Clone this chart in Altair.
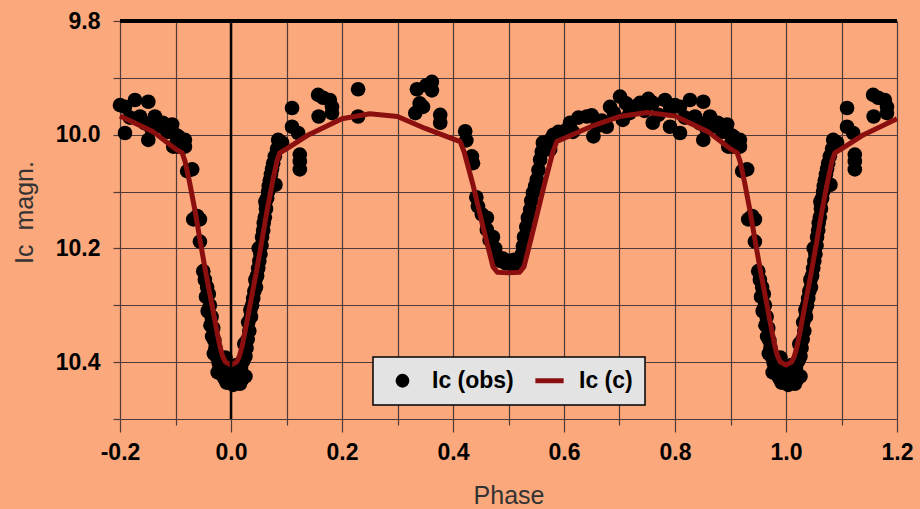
import altair as alt
import pandas as pd

# Observed Ic magnitudes over one cycle (phase 0..1)
OBS_PHASE = [
    0.000, 0.004, 0.008, 0.012, 0.016, 0.020, 0.026, 0.003, 0.010, 0.018,
    0.022, 0.026, 0.028, 0.024, 0.030, 0.033, 0.031, 0.036, 0.035, 0.038,
    0.040, 0.042, 0.045, 0.044, 0.047, 0.049, 0.051, 0.053, 0.050, 0.055,
    0.056, 0.058, 0.059, 0.061, 0.063, 0.062, 0.065, 0.067, 0.068, 0.070,
    0.072, 0.074, 0.076, 0.080, 0.079, 0.083, 0.085,
    0.092, 0.110, 0.110, 0.121, 0.124, 0.124, 0.124, 0.157, 0.166, 0.178,
    0.182, 0.182, 0.158, 0.229, 0.229, 0.332, 0.335, 0.352, 0.362, 0.362,
    0.346, 0.340, 0.377, 0.377,
    0.422, 0.424, 0.434, 0.436, 0.442, 0.445, 0.452, 0.461, 0.461, 0.466,
    0.472, 0.476, 0.480, 0.485, 0.490, 0.495, 0.500, 0.505, 0.510, 0.515,
    0.520, 0.524, 0.526, 0.528, 0.532, 0.535, 0.539, 0.541, 0.544, 0.548,
    0.551, 0.554, 0.557, 0.560, 0.562, 0.568, 0.575, 0.575, 0.581, 0.590,
    0.605, 0.611, 0.616, 0.626, 0.641, 0.650, 0.653, 0.660, 0.668, 0.677,
    0.683, 0.690, 0.701, 0.706, 0.712, 0.718, 0.725, 0.737, 0.745, 0.752,
    0.760, 0.760, 0.770, 0.782, 0.791, 0.791, 0.800, 0.809, 0.809, 0.818,
    0.827, 0.836, 0.845, 0.851, 0.851, 0.857, 0.863, 0.870, 0.877, 0.885,
    0.894, 0.896, 0.900, 0.905, 0.908,
    0.903, 0.917, 0.917, 0.921, 0.930, 0.932, 0.939, 0.944, 0.944, 0.950,
    0.953, 0.957, 0.955, 0.960, 0.962, 0.958, 0.965, 0.963, 0.968, 0.966,
    0.970, 0.972, 0.969, 0.975, 0.978, 0.980, 0.976, 0.984, 0.988, 0.992,
    0.996, 0.985, 0.990,
]
OBS_MAG = [
    10.430, 10.440, 10.435, 10.428, 10.438, 10.430, 10.425, 10.412, 10.405, 10.410,
    10.398, 10.390, 10.375, 10.368, 10.360, 10.345, 10.330, 10.320, 10.308, 10.300,
    10.288, 10.275, 10.268, 10.255, 10.248, 10.235, 10.222, 10.210, 10.200, 10.195,
    10.180, 10.168, 10.155, 10.145, 10.130, 10.118, 10.112, 10.100, 10.090, 10.080,
    10.070, 10.060, 10.050, 10.088, 10.038, 10.025, 10.009,
    10.014, 9.953, 9.986, 9.997, 10.035, 10.047, 10.061, 9.930, 9.935, 9.939,
    9.951, 9.962, 9.968, 9.920, 9.968, 9.962, 9.920, 9.913, 9.907, 9.922,
    9.951, 9.945, 9.965, 9.979,
    9.994, 10.010, 10.038, 10.050, 10.110, 10.126, 10.140, 10.146, 10.167, 10.185,
    10.180, 10.200, 10.214, 10.222, 10.218, 10.226, 10.222, 10.228, 10.220, 10.226,
    10.222, 10.210, 10.196, 10.180, 10.162, 10.146, 10.132, 10.116, 10.102, 10.090,
    10.079, 10.062, 10.044, 10.030, 10.014, 10.022, 10.009, 10.026, 10.000, 9.995,
    9.991, 9.979, 9.995, 9.970, 9.968, 9.966, 10.003, 9.985, 9.975, 9.986,
    9.951, 9.962, 9.933, 9.974, 9.945, 9.962, 9.951, 9.944, 9.958, 9.937,
    9.944, 9.979, 9.965, 9.939, 9.956, 9.986, 9.948, 9.997, 9.951, 9.970,
    9.939, 9.968, 9.980, 9.942, 10.009, 9.990, 9.968, 9.985, 9.979, 9.995,
    9.982, 10.021, 10.000, 10.003, 10.012,
    10.021, 10.009, 10.021, 10.064, 10.061, 10.149, 10.143, 10.149, 10.188, 10.240,
    10.255, 10.268, 10.285, 10.280, 10.300, 10.310, 10.320, 10.335, 10.340, 10.355,
    10.362, 10.375, 10.385, 10.392, 10.402, 10.412, 10.418, 10.422, 10.428, 10.436,
    10.430, 10.400, 10.392,
]

# Computed light curve over one cycle
MODEL_PHASE = [
    0.000, 0.010, 0.015, 0.020, 0.025, 0.035, 0.045, 0.055, 0.065, 0.075,
    0.083, 0.088, 0.100, 0.140, 0.200, 0.250, 0.300, 0.350, 0.413, 0.420,
    0.436, 0.454, 0.472, 0.480, 0.500, 0.520, 0.528, 0.546, 0.564, 0.580,
    0.587, 0.650, 0.700, 0.750, 0.800, 0.860, 0.900, 0.912, 0.917, 0.925,
    0.935, 0.945, 0.955, 0.965, 0.975, 0.980, 0.985, 0.990, 1.000,
]
MODEL_MAG = [
    10.405, 10.400, 10.390, 10.372, 10.348, 10.296, 10.245, 10.190, 10.133, 10.082,
    10.046, 10.032, 10.025, 10.000, 9.972, 9.963, 9.968, 9.989, 10.012, 10.030,
    10.088, 10.162, 10.232, 10.242, 10.243, 10.242, 10.232, 10.162, 10.090, 10.030,
    10.012, 9.985, 9.968, 9.961, 9.967, 9.995, 10.025, 10.032, 10.046, 10.082,
    10.133, 10.190, 10.245, 10.296, 10.348, 10.372, 10.390, 10.400, 10.405,
]

X_TICKS = [-0.2, -0.1, 0.0, 0.1, 0.2, 0.3, 0.4, 0.5, 0.6, 0.7, 0.8, 0.9, 1.0, 1.1, 1.2]
Y_TICKS = [9.8, 9.9, 10.0, 10.1, 10.2, 10.3, 10.4, 10.5]
SERIES = ["Ic (obs)", "Ic (c)"]

BG = "#FBA97C"
GRID = "#4f3a3a"
LINE = "#8b0f0f"
FONT = "Liberation Sans"
BAR_PATH = "M-2.05,-0.36L2.05,-0.36L2.05,0.36L-2.05,0.36Z"


def wrap(phase, mag):
    """Repeat the cycle so the plot runs from phase -0.2 to 1.2."""
    base = pd.DataFrame({"phase": phase, "mag": mag})
    left = base[base["phase"] >= 0.8].assign(phase=lambda d: d["phase"] - 1.0)
    right = base[base["phase"] <= 0.2].assign(phase=lambda d: d["phase"] + 1.0)
    return pd.concat([left, base, right]).sort_values("phase").reset_index(drop=True)


obs = wrap(OBS_PHASE, OBS_MAG).assign(series=SERIES[0])
model = wrap(MODEL_PHASE, MODEL_MAG)

EVEN = "round(datum.value * 10) % 2 == 0"
LABELS = EVEN + " ? replace(format(datum.value, '.1f'), '\u2212', '-') : ''"

x_axis = alt.Axis(
    values=X_TICKS, labelExpr=LABELS, grid=True, gridColor=GRID, gridWidth=1.2,
    domain=False, tickColor=GRID, tickWidth=1.2,
    tickSize={"condition": {"test": EVEN, "value": 13}, "value": 6},
    labelFont=FONT, labelFontSize=23, labelFontWeight="bold", labelColor="black",
    labelPadding=9, labelFlush=False, labelOverlap=False,
    title="Phase", titleFont=FONT, titleFontSize=25, titleFontWeight="normal",
    titleColor="#333333", titleY=84, titleBaseline="alphabetic",
)
y_axis = alt.Axis(
    values=Y_TICKS, labelExpr=LABELS, grid=True, gridColor=GRID, gridWidth=1.2,
    domain=False, tickColor=GRID, tickWidth=1.2, tickSize=7,
    labelFont=FONT, labelFontSize=23, labelFontWeight="bold", labelColor="black",
    labelPadding=13, labelFlush=False, labelOverlap=False,
    title="Ic\u00a0 magn.", titleFont=FONT, titleFontSize=25, titleFontWeight="normal",
    titleColor="#333333", titleX=-88, titleY=191, titleBaseline="alphabetic",
    titleAngle=270,
)

X = alt.X("phase:Q", scale=alt.Scale(domain=[-0.2, 1.2], nice=False, zero=False), axis=x_axis)
Y = alt.Y("mag:Q", scale=alt.Scale(domain=[9.8, 10.5], reverse=True, nice=False, zero=False), axis=y_axis)

points = alt.Chart(obs).mark_point(filled=True, size=215, opacity=1).encode(
    x=X, y=Y,
    color=alt.Color("series:N", scale=alt.Scale(domain=SERIES, range=["#000000", LINE]),
                    legend=alt.Legend(title=None)),
    shape=alt.Shape("series:N", scale=alt.Scale(domain=SERIES, range=["circle", BAR_PATH]),
                    legend=alt.Legend(title=None)),
)

curve = alt.Chart(model).mark_line(color=LINE, strokeWidth=5, strokeJoin="round").encode(x=X, y=Y)

zero_line = alt.Chart(pd.DataFrame({"phase": [0.0]})).mark_rule(
    color="black", strokeWidth=2.5).encode(x=X)
top_line = alt.Chart(pd.DataFrame({"mag": [9.8]})).mark_rule(
    color="black", strokeWidth=4).encode(y=Y)

chart = (
    alt.layer(points, curve, zero_line, top_line)
    .properties(
        width=777, height=398,
        padding={"left": 120, "top": 21, "right": 23, "bottom": 90},
        autosize=alt.AutoSizeParams(type="none"),
        background=BG,
    )
    .configure_view(fill=BG, stroke=None)
    .configure_legend(
        orient="none", legendX=253, legendY=336, direction="horizontal",
        fillColor="#E3E3E3", strokeColor="#000000", strokeWidth=1.5, padding=12,
        symbolSize=190, symbolOffset=6, symbolStrokeWidth=0, labelOffset=18,
        columnPadding=18, labelFont=FONT, labelFontSize=23, labelFontWeight="bold",
        labelColor="black",
    )
)

chart.save("out.html", embed_options={"renderer": "svg", "actions": False})
